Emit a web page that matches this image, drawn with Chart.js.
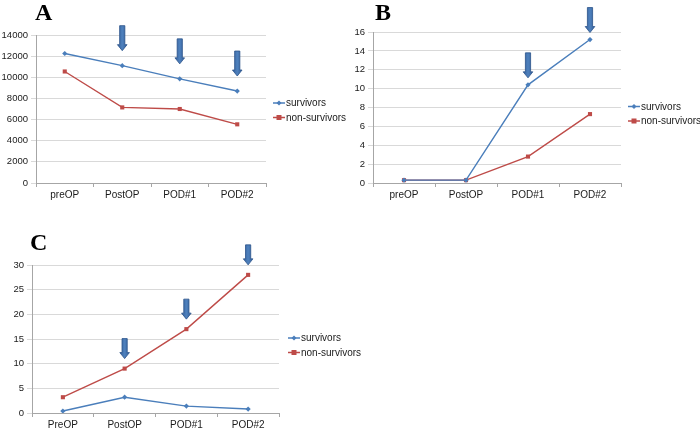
<!DOCTYPE html>
<html><head><meta charset="utf-8">
<script src="https://cdn.jsdelivr.net/npm/chart.js@4"></script>
<style>
html,body{margin:0;padding:0;background:#fff;}
#wrap{position:relative;width:700px;height:429px;overflow:hidden;background:#fff;}
canvas{position:absolute;}
.pl{position:absolute;font-family:"Liberation Serif","Times New Roman",serif;font-weight:bold;font-size:24px;line-height:1;color:#000;}
</style></head><body>
<div id="wrap">
<canvas id="cA" style="left:0;top:0;width:350px;height:200px"></canvas>
<canvas id="cB" style="left:350px;top:0;width:350px;height:200px"></canvas>
<canvas id="cC" style="left:0;top:200px;width:400px;height:229px"></canvas>
<div class="pl" style="left:35px;top:0px">A</div>
<div class="pl" style="left:375px;top:0px">B</div>
<div class="pl" style="left:30px;top:230px">C</div>
</div>
<script>
// ---- data ----
const catsAB = ['preOP','PostOP','POD#1','POD#2'];
const catsC = ['PreOP','PostOP','POD#1','POD#2'];
const seriesNames = ['survivors','non-survivors'];

const survA = [12250, 11100, 9850, 8700];
const nonA  = [10550, 7150, 7000, 5550];
const ticksA = [0, 14000, 2000];

const survB = [0.3, 0.3, 10.4, 15.2];
const nonB  = [0.3, 0.3, 2.8, 7.3];
const ticksB = [0, 16, 2];

const survC = [0.4, 3.2, 1.4, 0.8];
const nonC  = [3.2, 9.0, 17.0, 28.0];
const ticksC = [0, 30, 5];

const arrowsA = ['PostOP','POD#1','POD#2'];   // arrows over survivors
const arrowsB = ['POD#1','POD#2'];            // arrows over survivors
const arrowsC = ['PostOP','POD#1','POD#2'];   // arrows over non-survivors

// ---- styles ----
const BLUE = '#4A7EBB', RED = '#BE4B48';
const GRID = '#d9d9d9', AXIS = '#a6a6a6';
const FONT = {family: '"Liberation Sans", Arial, sans-serif', size: 10};

const arrowPlugin = {
  id: 'arrows',
  afterDatasetsDraw(chart, args, opts) {
    const ctx = chart.ctx;
    const meta = chart.getDatasetMeta(opts.dataset);
    const labels = chart.data.labels;
    opts.cats.forEach(c => {
      const i = labels.indexOf(c);
      const pt = meta.data[i];
      const x = pt.x;
      const tip = pt.y - opts.gap;
      const top = tip - opts.len;
      const sw = 2.6, hw = 4.8, hl = 6;
      ctx.save();
      ctx.beginPath();
      ctx.moveTo(x - sw, top);
      ctx.lineTo(x + sw, top);
      ctx.lineTo(x + sw, tip - hl);
      ctx.lineTo(x + hw, tip - hl);
      ctx.lineTo(x, tip);
      ctx.lineTo(x - hw, tip - hl);
      ctx.lineTo(x - sw, tip - hl);
      ctx.closePath();
      const g = ctx.createLinearGradient(x - hw, 0, x + hw, 0);
      g.addColorStop(0, '#33609C');
      g.addColorStop(0.5, '#4F81BD');
      g.addColorStop(1, '#33609C');
      ctx.fillStyle = g;
      ctx.fill();
      ctx.strokeStyle = '#2A5289';
      ctx.lineWidth = 0.8;
      ctx.stroke();
      ctx.restore();
    });
  }
};

const legendPlugin = {
  id: 'sideLegend',
  afterDraw(chart, args, opts) {
    const ctx = chart.ctx;
    const a = chart.chartArea;
    const x0 = a.right + opts.dx;
    let y = (a.top + a.bottom) / 2 + opts.dy;
    ctx.save();
    ctx.font = '10px "Liberation Sans", Arial, sans-serif';
    ctx.textBaseline = 'middle';
    chart.data.datasets.forEach(ds => {
      ctx.strokeStyle = ds.borderColor;
      ctx.lineWidth = 1.5;
      ctx.beginPath(); ctx.moveTo(x0, y); ctx.lineTo(x0 + 12, y); ctx.stroke();
      ctx.fillStyle = ds.borderColor;
      if (ds.pointStyle === 'rect') {
        ctx.fillRect(x0 + 6 - 2.5, y - 2.5, 5, 5);
      } else {
        ctx.beginPath();
        ctx.moveTo(x0 + 6, y - 2.5); ctx.lineTo(x0 + 8.5, y); ctx.lineTo(x0 + 6, y + 2.5); ctx.lineTo(x0 + 3.5, y);
        ctx.closePath(); ctx.fill();
      }
      ctx.fillStyle = '#1a1a1a';
      ctx.fillText(ds.label, x0 + 13, y + 0.5);
      y += 14.5;
    });
    ctx.restore();
  }
};

function makeChart(id, cats, s, n, t, pad, yW, xH, arrows, arrowDs, gap, len, legDx, legDy) {
  const cv = document.getElementById(id);
  return new Chart(cv, {
    type: 'line',
    data: {
      labels: cats,
      datasets: [
        {label: seriesNames[0], data: s, borderColor: BLUE, backgroundColor: BLUE, borderWidth: 1.4,
         pointStyle: 'rectRot', pointRadius: 2.6, pointBorderWidth: 0, tension: 0},
        {label: seriesNames[1], data: n, borderColor: RED, backgroundColor: RED, borderWidth: 1.4,
         pointStyle: 'rect', pointRadius: 2.9, pointBorderWidth: 0, tension: 0}
      ]
    },
    options: {
      responsive: false, animation: false, devicePixelRatio: 1,
      layout: {padding: pad},
      plugins: {
        legend: {display: false}, tooltip: {enabled: false},
        arrows: {cats: arrows, dataset: arrowDs, gap: gap, len: len},
        sideLegend: {dx: legDx, dy: legDy}
      },
      scales: {
        x: {
          offset: true,
          grid: {offset: true, drawOnChartArea: false, tickLength: 4, color: AXIS},
          border: {color: AXIS},
          ticks: {font: FONT, color: '#1a1a1a', padding: 2, maxRotation: 0},
          afterFit: sc => { sc.height = xH; }
        },
        y: {
          min: t[0], max: t[1],
          grid: {color: GRID, tickLength: 5, drawTicks: true},
          border: {color: AXIS},
          ticks: {stepSize: t[2], font: {family: FONT.family, size: 9.5}, color: '#1a1a1a', padding: 3,
                  callback: v => String(v)},
          afterFit: sc => { sc.width = yW; }
        }
      }
    },
    plugins: [arrowPlugin, legendPlugin]
  });
}

function sizeCanvas(id, w, h) { const c = document.getElementById(id); c.width = w; c.height = h; }
sizeCanvas('cA', 350, 200); sizeCanvas('cB', 350, 200); sizeCanvas('cC', 400, 229);

makeChart('cA', catsAB, survA, nonA, ticksA,
  {left: 0, top: 35, right: 84, bottom: 0}, 36, 17, arrowsA, 0, 15, 25, 7, -6);
makeChart('cB', catsAB, survB, nonB, ticksB,
  {left: 0, top: 32, right: 79, bottom: 0}, 23, 17, arrowsB, 0, 7, 25, 7, -1);
makeChart('cC', catsC, survC, nonC, ticksC,
  {left: 0, top: 65, right: 121, bottom: 0}, 32, 16, arrowsC, 1, 10, 20, 9, -1);
</script>
</body></html>
